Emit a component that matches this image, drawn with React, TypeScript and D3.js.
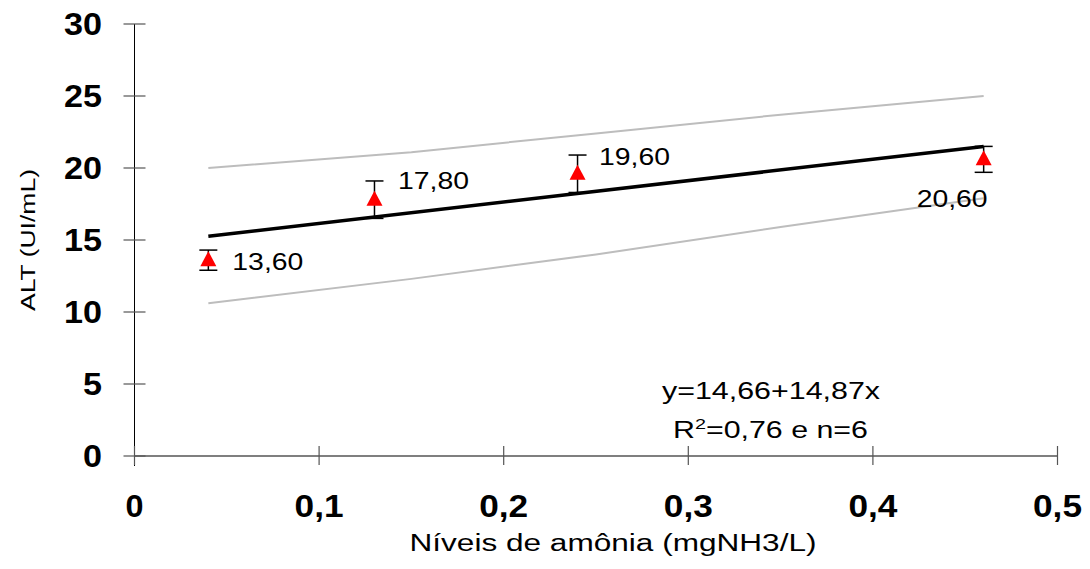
import React, { useEffect, useRef } from 'react';
import * as d3 from 'd3';

// measured data
const levels = [0.04, 0.13, 0.24, 0.46];
const altMeans = [13.6, 17.8, 19.6, 20.6];
const altErrors = [0.7, 1.3, 1.3, 0.9];
const pointLabels = ['13,60', '17,80', '19,60', '20,60'];

// regression y = 14,66 + 14,87x
const intercept = 14.66;
const slope = 14.87;

// confidence band
const bandX = [0.04, 0.15, 0.25, 0.35, 0.46];
const bandUpper = [20.0, 21.1, 22.4, 23.7, 25.0];
const bandLower = [10.6, 12.3, 14.0, 15.9, 17.9];

const xTicks = [0, 0.1, 0.2, 0.3, 0.4, 0.5];
const yTicks = [0, 5, 10, 15, 20, 25, 30];

const W = 1090;
const H = 569;
const FONT = '"Liberation Sans", Arial, sans-serif';

const App = () => {
  const svgRef = useRef<SVGSVGElement | null>(null);

  useEffect(() => {
    if (!svgRef.current) return;
    const svg = d3.select(svgRef.current);
    svg.selectAll('*').remove();

    const x = d3.scaleLinear().domain([0, 0.5]).range([134.5, 1057.5]);
    const y = d3.scaleLinear().domain([0, 30]).range([456, 24]);

    const g = svg.append('g');

    // the original picture is stretched horizontally, so stretch text to measured widths
    const stretch = (sel: any, width: number) =>
      sel.attr('textLength', width).attr('lengthAdjust', 'spacingAndGlyphs');

    // axes lines
    g.append('line')
      .attr('x1', x(0)).attr('x2', x(0))
      .attr('y1', y(30)).attr('y2', y(0) + 10)
      .attr('stroke', '#000').attr('stroke-width', 1);
    g.append('line')
      .attr('x1', x(0)).attr('x2', x(0.5))
      .attr('y1', y(0)).attr('y2', y(0))
      .attr('stroke', '#555').attr('stroke-width', 1.3);

    // y ticks
    yTicks.forEach(t => {
      g.append('line')
        .attr('x1', x(0) - 11).attr('x2', x(0) + 11)
        .attr('y1', y(t)).attr('y2', y(t))
        .attr('stroke', '#555').attr('stroke-width', 1.2);
      const lbl = g.append('text')
        .attr('x', 102).attr('y', y(t) + 11)
        .attr('text-anchor', 'end')
        .style('font-family', FONT)
        .style('font-size', '31px')
        .style('font-weight', 'bold')
        .text(String(t));
      stretch(lbl, String(t).length * 19);
    });

    // x ticks
    xTicks.forEach(t => {
      g.append('line')
        .attr('x1', x(t)).attr('x2', x(t))
        .attr('y1', y(0) - 10).attr('y2', y(0) + 9)
        .attr('stroke', '#555').attr('stroke-width', 1.2);
      const s = t === 0 ? '0' : String(t).replace('.', ',');
      const lbl = g.append('text')
        .attr('x', x(t)).attr('y', 517)
        .attr('text-anchor', 'middle')
        .style('font-family', FONT)
        .style('font-size', '31px')
        .style('font-weight', 'bold')
        .text(s);
      stretch(lbl, t === 0 ? 18 : 49);
    });

    // axis titles
    stretch(g.append('text')
      .attr('x', 613).attr('y', 551)
      .attr('text-anchor', 'middle')
      .style('font-family', FONT)
      .style('font-size', '23px')
      .text('Níveis de amônia (mgNH3/L)'), 407);
    stretch(g.append('text')
      .attr('transform', `translate(35,240) rotate(-90)`)
      .attr('text-anchor', 'middle')
      .style('font-family', FONT)
      .style('font-size', '21px')
      .text('ALT (UI/mL)'), 142);

    // confidence bands
    const bandLine = d3.line<number>()
      .x((_, i) => x(bandX[i]));
    [bandUpper, bandLower].forEach(vals => {
      g.append('path')
        .attr('d', bandLine.y(d => y(d))(vals))
        .attr('fill', 'none')
        .attr('stroke', '#bdbdbd')
        .attr('stroke-width', 2);
    });

    // regression line
    const x0 = d3.min(levels) as number;
    const x1 = d3.max(levels) as number;
    g.append('line')
      .attr('x1', x(x0)).attr('y1', y(intercept + slope * x0))
      .attr('x2', x(x1)).attr('y2', y(intercept + slope * x1))
      .attr('stroke', '#000').attr('stroke-width', 3.5);

    // error bars + points
    levels.forEach((lv, i) => {
      const cx = x(lv);
      const top = y(altMeans[i] + altErrors[i]);
      const bot = y(altMeans[i] - altErrors[i]);
      g.append('line')
        .attr('x1', cx).attr('x2', cx).attr('y1', top).attr('y2', bot)
        .attr('stroke', '#000').attr('stroke-width', 1.5);
      [top, bot].forEach(v => {
        g.append('line')
          .attr('x1', cx - 9).attr('x2', cx + 9).attr('y1', v).attr('y2', v)
          .attr('stroke', '#000').attr('stroke-width', 1.5);
      });
      const cy = y(altMeans[i]);
      g.append('path')
        .attr('d', `M${cx},${cy - 9}L${cx + 8},${cy + 6}L${cx - 8},${cy + 6}Z`)
        .attr('fill', '#ff0000');
    });

    // point labels
    const labelPos = [
      { dx: 24, dy: 10 },
      { dx: 23.5, dy: -11 },
      { dx: 21.5, dy: -9 },
      { dx: -67, dy: 48 },
    ];
    levels.forEach((lv, i) => {
      const cy = y(altMeans[i]);
      stretch(g.append('text')
        .attr('x', x(lv) + labelPos[i].dx)
        .attr('y', cy + labelPos[i].dy)
        .style('font-family', FONT)
        .style('font-size', '24px')
        .text(pointLabels[i]), 71);
    });

    // equation
    stretch(g.append('text')
      .attr('x', 662).attr('y', 399)
      .style('font-family', FONT)
      .style('font-size', '23px')
      .text('y=14,66+14,87x'), 218);
    const r2 = g.append('text')
      .attr('x', 673).attr('y', 438)
      .style('font-family', FONT)
      .style('font-size', '23px');
    r2.append('tspan').text('R');
    r2.append('tspan').attr('dy', -9).style('font-size', '15px').text('2');
    r2.append('tspan').attr('dy', 9).text('=0,76 e n=6');
    stretch(r2, 195);
  }, []);

  return (
    <div style={{ position: 'absolute', left: 0, top: 0, width: W, height: H, background: '#fff' }}>
      <svg ref={svgRef} width={W} height={H} style={{ display: 'block' }} />
    </div>
  );
};

export default App;
